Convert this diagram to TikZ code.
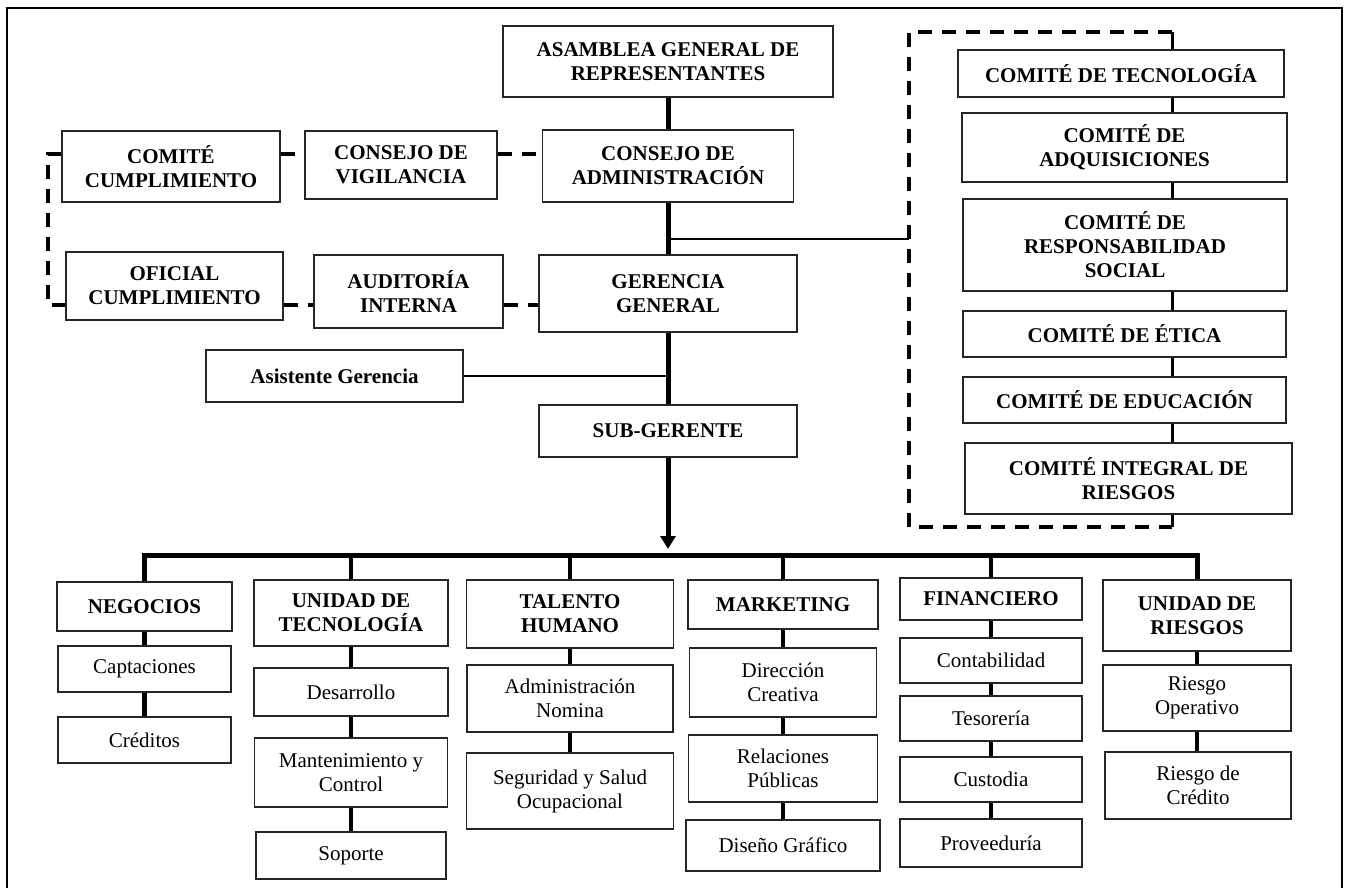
\documentclass[tikz,border=0pt]{standalone}
\usepackage{fontspec}
\setmainfont{Liberation Serif}
\usetikzlibrary{arrows.meta}

\begin{document}
\begin{tikzpicture}[
    x=0.5pt, y=-0.5pt,
    font=\fontsize{10.5pt}{12pt}\selectfont,
    unit/.style={
        draw=black!85,
        line width=0.6pt,
        fill=white,
        align=center,
        inner sep=2pt,
        font=\fontsize{10.5pt}{12pt}\selectfont\bfseries
    },
    item/.style={unit, font=\fontsize{10.5pt}{12pt}\selectfont},
    trunk/.style={line width=2.5pt, color=black},
    branch/.style={line width=2.2pt, color=black},
    thinlink/.style={line width=1.1pt, color=black},
    dlink/.style={line width=1.8pt, color=black, dash pattern=on 7pt off 5pt}
]
\useasboundingbox (0,0) rectangle (1347,888);
\draw[line width=0.7pt] (7,888) -- (7,8) -- (1342,8) -- (1342,888);

% Main column
\node[unit, minimum width=165pt, minimum height=35.5pt] (asam) at (668,61.5) {ASAMBLEA GENERAL DE\\REPRESENTANTES};
\node[unit, minimum width=125.5pt, minimum height=36pt] (cadm) at (668,166) {CONSEJO DE\\ADMINISTRACIÓN};
\node[unit, minimum width=129pt, minimum height=38.5pt] (gere) at (668,293.5) {GERENCIA\\GENERAL};
\node[unit, minimum width=129pt, minimum height=26pt] (subg) at (668,431) {SUB-GERENTE};
\node[unit, minimum width=128.5pt, minimum height=26pt] (asis) at (334.5,376) {Asistente Gerencia};

% Control bodies (left)
\node[unit, minimum width=109pt, minimum height=35.5pt] (ccum) at (171,166.5) {COMITÉ\\CUMPLIMIENTO};
\node[unit, minimum width=96pt, minimum height=34pt] (cvig) at (401,165) {CONSEJO DE\\VIGILANCIA};
\node[unit, minimum width=108.5pt, minimum height=34pt] (ofic) at (174.5,286) {OFICIAL\\CUMPLIMIENTO};
\node[unit, minimum width=94.5pt, minimum height=36.5pt] (audi) at (408.5,291.5) {AUDITORÍA\\INTERNA};

\draw[trunk] (asam) -- (cadm);
\draw[trunk] (cadm) -- (gere);
\draw[trunk] (gere) -- (subg);
\draw[thinlink] (asis) -- (asis -| gere);

\coordinate (lc1) at (48,154);
\coordinate (lc2) at (48,305);
\draw[dlink] (ccum.east |- lc1) -- (cvig.west |- lc1);
\draw[dlink] (cvig.east |- lc1) -- (cadm.west |- lc1);
\draw[dlink] (ccum.west |- lc1) -- (lc1) -- (lc2) -- (ofic.west |- lc2);
\draw[dlink] (ofic.east |- lc2) -- (audi.west |- lc2);
\draw[dlink] (audi.east |- lc2) -- (gere.west |- lc2);

% Committees (right)
\node[unit, minimum width=163pt, minimum height=23.5pt] (ctec) at (1121,73.5) {COMITÉ DE TECNOLOGÍA};
\node[unit, minimum width=162.5pt, minimum height=34.5pt] (cadq) at (1124.5,147.5) {COMITÉ DE\\ADQUISICIONES};
\node[unit, minimum width=162pt, minimum height=46pt] (cres) at (1125,245) {COMITÉ DE\\RESPONSABILIDAD\\SOCIAL};
\node[unit, minimum width=161.5pt, minimum height=23pt] (ceti) at (1124.5,334) {COMITÉ DE ÉTICA};
\node[unit, minimum width=161.5pt, minimum height=23pt] (cedu) at (1124.5,400) {COMITÉ DE EDUCACIÓN};
\node[unit, minimum width=163.5pt, minimum height=35.5pt] (cint) at (1128.5,478.5) {COMITÉ INTEGRAL DE\\RIESGOS};

\coordinate (brTL) at (909,32);
\coordinate (brTR) at (1172,32);
\coordinate (brBL) at (909,527);
\coordinate (brBR) at (1172,527);
\coordinate (brIn) at (909,239);
\draw[dlink] (brTR) -- (brTL) -- (brBL) -- (brBR);
\draw[thinlink] (brIn -| cadm) -- (brIn);
\draw[line width=1.5pt] (brTR) -- (ctec.north -| brTR);
\foreach \a/\b in {ctec/cadq, cadq/cres, cres/ceti, ceti/cedu, cedu/cint}
    \draw[line width=1.5pt] (\a.south -| brTR) -- (\b.north -| brTR);
\draw[line width=1.5pt] (cint.south -| brTR) -- (brBR);

% Departments
\node[unit, minimum width=87.5pt, minimum height=24.5pt] (neg) at (144.5,606.5) {NEGOCIOS};
\node[item, minimum width=86.5pt, minimum height=23pt] (capt) at (144.5,669) {Captaciones};
\node[item, minimum width=86.5pt, minimum height=23pt] (cred) at (144.5,740) {Créditos};

\node[unit, minimum width=97pt, minimum height=33pt] (utec) at (351,613) {UNIDAD DE\\TECNOLOGÍA};
\node[item, minimum width=97pt, minimum height=24pt] (desa) at (351,692) {Desarrollo};
\node[item, minimum width=96.5pt, minimum height=34.5pt] (mant) at (351,772.5) {Mantenimiento y\\Control};
\node[item, minimum width=95pt, minimum height=23.5pt] (sopo) at (351,855.5) {Soporte};

\node[unit, minimum width=103.5pt, minimum height=34pt] (tal) at (570,614) {TALENTO\\HUMANO};
\node[item, minimum width=103pt, minimum height=33.5pt] (anom) at (570,698.5) {Administración\\Nomina};
\node[item, minimum width=103.5pt, minimum height=38pt] (segu) at (570,791) {Seguridad y Salud\\Ocupacional};

\node[unit, minimum width=95pt, minimum height=24.5pt] (mkt) at (783,604.5) {MARKETING};
\node[item, minimum width=93.5pt, minimum height=34.5pt] (dcre) at (783,682.5) {Dirección\\Creativa};
\node[item, minimum width=94.5pt, minimum height=33.5pt] (rpub) at (783,768.5) {Relaciones\\Públicas};
\node[item, minimum width=97pt, minimum height=25.5pt] (dgra) at (783,845.5) {Diseño Gráfico};

\node[unit, minimum width=91pt, minimum height=21pt] (fin) at (991,599) {FINANCIERO};
\node[item, minimum width=91pt, minimum height=22.5pt] (cont) at (991,660.5) {Contabilidad};
\node[item, minimum width=91pt, minimum height=22.5pt] (teso) at (991,718.5) {Tesorería};
\node[item, minimum width=91pt, minimum height=22.5pt] (cust) at (991,779.5) {Custodia};
\node[item, minimum width=91pt, minimum height=24pt] (prov) at (991,843) {Proveeduría};

\node[unit, minimum width=94pt, minimum height=35.5pt] (uri) at (1197,615.5) {UNIDAD DE\\RIESGOS};
\node[item, minimum width=94pt, minimum height=33pt] (rope) at (1197,698) {Riesgo\\Operativo};
\node[item, minimum width=93pt, minimum height=33.5pt] (rcre) at (1198,785.5) {Riesgo de\\Crédito};

\coordinate (bus) at (0,555);
\draw[trunk, -{Triangle[length=6.5pt, width=7.5pt]}] (subg) -- ([yshift=3pt]subg |- bus);
\draw[trunk] (neg.north) -- (neg.north |- bus) -- (uri.north |- bus) -- (uri.north);
\foreach \d in {utec, tal, mkt, fin}
    \draw[branch] (\d.north) -- (\d.north |- bus);

\foreach \a/\b in {neg/capt, capt/cred, utec/desa, desa/mant, mant/sopo, tal/anom, anom/segu,
                   mkt/dcre, dcre/rpub, rpub/dgra, fin/cont, cont/teso, teso/cust, cust/prov,
                   uri/rope, rope/rcre}
    \draw[branch] (\a) -- (\a |- \b.north);

\end{tikzpicture}
\end{document}
